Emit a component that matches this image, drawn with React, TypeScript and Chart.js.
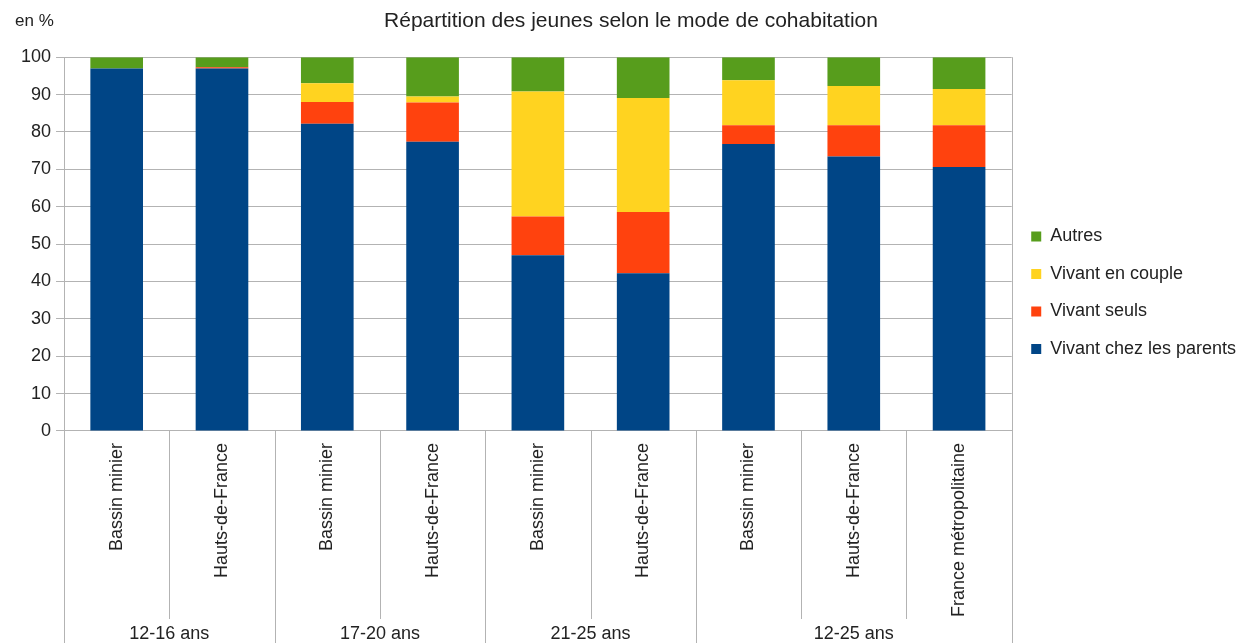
import React, { useEffect, useRef } from "react";
import { Chart, registerables } from "chart.js";

Chart.register(...registerables);

const categories = [
  "Bassin minier",
  "Hauts-de-France",
  "Bassin minier",
  "Hauts-de-France",
  "Bassin minier",
  "Hauts-de-France",
  "Bassin minier",
  "Hauts-de-France",
  "France métropolitaine",
];

// group label, number of categories in the group
const groupLabels = ["12-16 ans", "17-20 ans", "21-25 ans", "12-25 ans"];
const groupSizes = [2, 2, 2, 3];

const parents = [97, 97, 82.2, 77.4, 47, 42.2, 76.8, 73.4, 70.6];
const seuls = [0, 0.3, 5.8, 10.5, 10.4, 16.4, 5.0, 8.4, 11.2];
const couple = [0, 0, 5.0, 1.6, 33.4, 30.5, 12.0, 10.5, 9.7];
const autres = [3, 2.7, 7.0, 10.5, 9.2, 10.9, 6.2, 7.7, 8.5];

const seriesNames = ["Vivant chez les parents", "Vivant seuls", "Vivant en couple", "Autres"];
const seriesColors = ["#004586", "#ff420e", "#ffd320", "#579d1c"];

const FONT = "'Liberation Sans', Arial, sans-serif";
const GRID = "#b3b3b3";
const TEXT = "#222";

const decorations = {
  id: "decorations",
  afterDraw(chart: any) {
    const { ctx, chartArea } = chart;
    const x = chart.scales.x;
    const H = chart.height;
    ctx.save();
    ctx.strokeStyle = GRID;
    ctx.lineWidth = 1;
    // right border
    ctx.beginPath();
    ctx.moveTo(Math.round(chartArea.right) + 0.5, chartArea.top);
    ctx.lineTo(Math.round(chartArea.right) + 0.5, H);
    ctx.stroke();
    // category boundaries
    const n = categories.length;
    const groupEnds = new Set<number>();
    let acc = 0;
    groupEnds.add(0);
    groupSizes.forEach((s) => {
      acc += s;
      groupEnds.add(acc);
    });
    for (let i = 0; i <= n; i++) {
      let px: number;
      if (i === 0) px = chartArea.left;
      else if (i === n) px = chartArea.right;
      else px = (x.getPixelForValue(i - 1) + x.getPixelForValue(i)) / 2;
      const bottom = groupEnds.has(i) ? H : 619;
      ctx.beginPath();
      ctx.moveTo(Math.round(px) + 0.5, chartArea.bottom);
      ctx.lineTo(Math.round(px) + 0.5, bottom);
      ctx.stroke();
    }
    // group labels
    ctx.fillStyle = TEXT;
    ctx.font = `18px ${FONT}`;
    ctx.textAlign = "center";
    ctx.textBaseline = "middle";
    let start = 0;
    groupSizes.forEach((s, gi) => {
      const first = x.getPixelForValue(start);
      const last = x.getPixelForValue(start + s - 1);
      ctx.fillText(groupLabels[gi], (first + last) / 2, 634);
      start += s;
    });
    // unit label
    ctx.font = `17px ${FONT}`;
    ctx.textAlign = "left";
    ctx.fillText("en %", 15, 21);
    ctx.restore();
  },
};

export default function App() {
  const ref = useRef<HTMLCanvasElement>(null);
  useEffect(() => {
    const data = [parents, seuls, couple, autres];
    const chart = new Chart(ref.current!, {
      type: "bar",
      data: {
        labels: categories,
        datasets: seriesNames.map((name, i) => ({
          label: name,
          data: data[i],
          backgroundColor: seriesColors[i],
          borderWidth: 0,
          barPercentage: 0.5,
          categoryPercentage: 1,
        })),
      },
      options: {
        responsive: false,
        animation: false,
        layout: { padding: { left: 16, bottom: 14, right: 5, top: 0 } },
        plugins: {
          title: {
            display: true,
            text: "Répartition des jeunes selon le mode de cohabitation",
            font: { family: FONT, size: 21, weight: "normal" },
            color: TEXT,
            padding: { top: 9, bottom: 23 },
          },
          legend: {
            position: "right",
            align: "start",
            reverse: true,
            title: { display: true, text: "", font: { size: 10 }, padding: { top: 196, bottom: 0 } },
            labels: {
              boxWidth: 10,
              boxHeight: 10,
              padding: 19.5,
              font: { family: FONT, size: 18 },
              color: TEXT,
            },
          },
          tooltip: { enabled: false },
        },
        scales: {
          x: {
            stacked: true,
            grid: { display: false, drawTicks: false },
            border: { display: true, color: GRID },
            ticks: {
              minRotation: 90,
              maxRotation: 90,
              padding: 12,
              autoSkip: false,
              font: { family: FONT, size: 18 },
              color: TEXT,
            },
          },
          y: {
            stacked: true,
            min: 0,
            max: 100,
            grid: { color: GRID, tickLength: 8 },
            border: { color: GRID },
            ticks: {
              stepSize: 10,
              padding: 5,
              font: { family: FONT, size: 18 },
              color: TEXT,
            },
          },
        },
      },
      plugins: [decorations],
    });
    return () => chart.destroy();
  }, []);
  return (
    <canvas
      ref={ref}
      width={1251}
      height={643}
      style={{ position: "absolute", left: 0, top: 0, display: "block" }}
    />
  );
}
